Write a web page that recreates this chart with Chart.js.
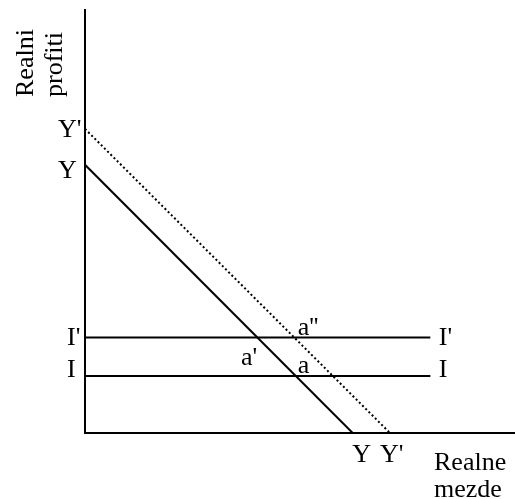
<!DOCTYPE html>
<html>
<head>
<meta charset="utf-8">
<script src="https://cdn.jsdelivr.net/npm/chart.js@4"></script>
<style>
  html, body { margin: 0; padding: 0; background: #fff; }
  #wrap { width: 515px; height: 499px; position: relative; }
</style>
</head>
<body>
<div id="wrap"><canvas id="c" width="515" height="499"></canvas></div>
<script>
// ---- data (diagram units) ----
const yLineIntercepts = { y: 6.34, x: 6.24 };      // Y line: profit axis / wage axis
const yPrimeIntercepts = { y: 7.19, x: 7.11 };     // Y' line (dotted)
const iLevel = 1.35;                                // I
const iPrimeLevel = 2.26;                           // I'
const horizEnd = 8.05;                              // where I and I' stop
const axisMax = { x: 10, y: 10 };
const axisLabelsY = ["Realni", "profiti"];
const axisLabelsX = ["Realne", "mezde"];

const Yline = [{ x: 0, y: yLineIntercepts.y }, { x: yLineIntercepts.x, y: 0 }];
const YPline = [{ x: 0, y: yPrimeIntercepts.y }, { x: yPrimeIntercepts.x, y: 0 }];
const Iline = [{ x: 0, y: iLevel }, { x: horizEnd, y: iLevel }];
const IPline = [{ x: 0, y: iPrimeLevel }, { x: horizEnd, y: iPrimeLevel }];

function xAtY(line, y) {
  const a = line[0], b = line[1];
  return a.x + (y - a.y) * (b.x - a.x) / (b.y - a.y);
}

const FONT = '26px "Liberation Serif", "Times New Roman", serif';

const labelPlugin = {
  id: 'labels',
  afterDraw(chart) {
    const ctx = chart.ctx;
    const xs = chart.scales.x, ys = chart.scales.y;
    const px = v => xs.getPixelForValue(v);
    const py = v => ys.getPixelForValue(v);
    ctx.save();
    ctx.fillStyle = '#000';
    ctx.font = FONT;
    ctx.textBaseline = 'alphabetic';
    const left = xs.left;
    const t = (s, x, y, align) => { ctx.textAlign = align || 'left'; ctx.fillText(s, x, y); };
    // profit-axis labels
    t("Y'", left - 27, py(yPrimeIntercepts.y) + 8);
    t("Y", left - 27, py(yLineIntercepts.y) + 13);
    t("I'", left - 18, py(iPrimeLevel) + 8);
    t("I", left - 18, py(iLevel) + 1);
    // right-end labels
    t("I'", px(horizEnd) + 8.5, py(iPrimeLevel) + 8);
    t("I", px(horizEnd) + 8.5, py(iLevel) + 1);
    // intersection labels
    t("a''", px(xAtY(YPline, iPrimeLevel)) + 3.5, py(iPrimeLevel) - 2.5);
    t("a'", px(xAtY(Yline, iPrimeLevel)), py(iPrimeLevel) + 27.5, 'right');
    t("a", px(xAtY(Yline, iLevel)) + 2, py(iLevel) - 3);
    // wage-axis labels
    const bottom = ys.bottom;
    t("Y", px(yLineIntercepts.x) - 0.5, bottom + 29);
    t("Y'", px(yPrimeIntercepts.x) - 10, bottom + 29);
    t(axisLabelsX[0], 434, bottom + 37);
    t(axisLabelsX[1], 434, bottom + 64);
    // rotated axis title
    ctx.translate(0, 97);
    ctx.rotate(-Math.PI / 2);
    ctx.textAlign = 'left';
    ctx.fillText(axisLabelsY[0], 0, 33);
    ctx.fillText(axisLabelsY[1], 0, 62);
    ctx.restore();
  }
};

const lineDs = (data, extra) => Object.assign({
  data, showLine: true, borderColor: '#000', borderWidth: 2,
  pointRadius: 0, fill: false, tension: 0
}, extra || {});

new Chart(document.getElementById('c'), {
  type: 'scatter',
  data: {
    datasets: [
      lineDs(Yline),
      lineDs(YPline, { borderWidth: 2, borderDash: [2, 2.5] }),
      lineDs(IPline),
      lineDs(Iline)
    ]
  },
  options: {
    responsive: false,
    animation: false,
    events: [],
    layout: { padding: { left: 85, right: 1, top: 10, bottom: 66 } },
    plugins: { legend: { display: false }, tooltip: { enabled: false } },
    scales: {
      x: {
        type: 'linear', min: 0, max: axisMax.x,
        ticks: { display: false },
        grid: { display: false, drawTicks: false, tickLength: 0 },
        border: { display: true, color: '#000', width: 2 }
      },
      y: {
        type: 'linear', min: 0, max: axisMax.y,
        ticks: { display: false },
        grid: { display: false, drawTicks: false, tickLength: 0 },
        border: { display: true, color: '#000', width: 2 }
      }
    }
  },
  plugins: [labelPlugin]
});
</script>
</body>
</html>
